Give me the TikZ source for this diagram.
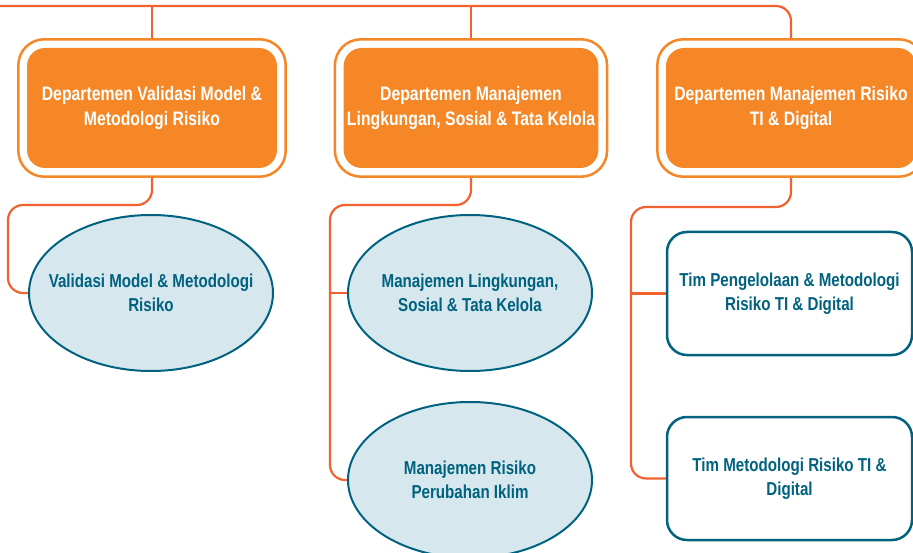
\documentclass[tikz,border=0pt]{standalone}
\usepackage{fontspec}
\setmainfont{Liberation Sans}[FakeStretch=0.81]
\usepackage{xcolor}
\usepackage{tikz}
\usetikzlibrary{shapes.geometric,fit,calc}

\definecolor{lineorange}{HTML}{F26130}
\definecolor{deptorange}{HTML}{F58726}
\definecolor{ellfill}{HTML}{D6E7EE}
\definecolor{teamteal}{HTML}{00627F}

\begin{document}
\begin{tikzpicture}[
  x=1pt, y=-1pt,
  dept/.style={fill=deptorange,rounded corners=18pt,minimum width=250pt,minimum height=120pt,align=center,
    text=white,font=\bfseries\fontsize{19.5}{24.5}\selectfont},
  ring/.style={draw=deptorange,line width=2.5pt,rounded corners=26pt,inner sep=8.5pt},
  unit/.style={ellipse,draw=teamteal,fill=ellfill,line width=2pt,minimum width=244pt,minimum height=156pt,
    inner xsep=-25pt,inner ysep=0pt,align=center,text=teamteal,font=\bfseries\fontsize{18.7}{23.5}\selectfont},
  team/.style={draw=teamteal,fill=white,line width=2.5pt,rounded corners=20pt,minimum width=245pt,minimum height=123pt,
    align=center,text=teamteal,font=\bfseries\fontsize{18.7}{23.5}\selectfont},
  conn/.style={draw=lineorange,line width=2.2pt,rounded corners=15pt},
]
\clip (0,0) rectangle (913,553);

% departemen
\node[dept] (d1) at (152,108) {Departemen Validasi Model \&\\Metodologi Risiko};
\node[dept] (d2) at (471,108) {Departemen Manajemen\\Lingkungan, Sosial \& Tata Kelola};
\node[dept] (d3) at (791,108) {Departemen Manajemen Risiko\\TI \& Digital};
\node[ring, fit=(d1)] (d1r) {};
\node[ring, fit=(d2)] (d2r) {};
\node[ring, fit=(d3)] (d3r) {};

% unit di bawahnya
\node[unit] (e1) at (151,293) {Validasi Model \& Metodologi\\Risiko};
\node[unit] (e2) at (470,293) {Manajemen Lingkungan,\\Sosial \& Tata Kelola};
\node[unit] (e3) at (470,480) {Manajemen Risiko\\Perubahan Iklim};
\node[team] (t1) at (789.5,293.5) {Tim Pengelolaan \& Metodologi\\Risiko TI \& Digital};
\node[team] (t2) at (789.5,478.5) {Tim Metodologi Risiko TI \&\\Digital};

% garis atas
\coordinate (top) at (0,6);
\draw[conn] (top) -| (d3r.north);
\draw[conn] (d1r.north |- top) -- (d1r.north);
\draw[conn] (d2r.north |- top) -- (d2r.north);

% cabang
\coordinate (c1) at (8,205);
\coordinate (c2) at (330,205);
\coordinate (c3) at (631,207);
\draw[conn] (d1r.south) |- (c1) |- (e1.west);
\draw[conn] (d2r.south) |- (c2) |- (e3.west);
\draw[conn] (c2 |- e2.west) -- (e2.west);
\draw[conn] (d3r.south) |- (c3) |- (t2.west);
\draw[conn] (c3 |- t1.west) -- (t1.west);
\end{tikzpicture}
\end{document}
